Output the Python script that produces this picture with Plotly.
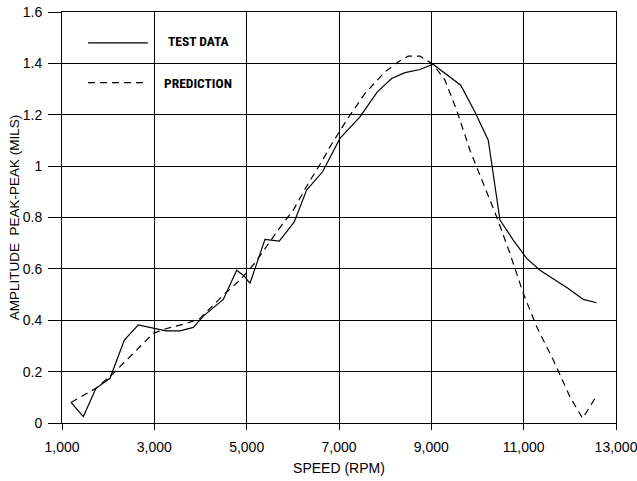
import plotly.graph_objects as go

# Test data (solid)
test_speed = [1195, 1462, 1736, 2040, 2350, 2653, 3253, 3556, 3845, 4061, 4494, 4784, 4949, 5072,
              5397, 5520, 5706, 6031, 6298, 6645, 7021, 7454, 7830, 8141, 8429, 8754, 9035,
              9636, 9945, 10233, 10487, 10775, 11065, 11353, 11642, 11966, 12291, 12580]
test_amp = [0.08, 0.025, 0.135, 0.174, 0.323, 0.382, 0.359, 0.359, 0.372, 0.416, 0.481, 0.595, 0.572, 0.544,
            0.715, 0.712, 0.708, 0.783, 0.907, 0.978, 1.108, 1.192, 1.289, 1.341, 1.364, 1.376, 1.397,
            1.315, 1.211, 1.101, 0.79, 0.712, 0.641, 0.595, 0.563, 0.524, 0.481, 0.468]

# Prediction (dashed)
pred_speed = [1195, 1736, 2111, 2977, 3267, 3700, 3989, 4494, 4855, 5202, 5650, 6010, 6335, 6624,
              6804, 7165, 7563, 7996, 8284, 8501, 8754, 9035, 9295, 9548, 9837, 10125, 10414,
              10703, 10992, 11281, 11642, 12003, 12276, 12566]
pred_amp = [0.08, 0.135, 0.193, 0.349, 0.368, 0.388, 0.407, 0.498, 0.556, 0.628, 0.744, 0.829, 0.933, 1.017,
            1.075, 1.179, 1.283, 1.367, 1.406, 1.428, 1.428, 1.397, 1.335, 1.218, 1.062, 0.933, 0.803,
            0.66, 0.505, 0.375, 0.245, 0.102, 0.018, 0.102]

x_ticks = [1000, 3000, 5000, 7000, 9000, 11000, 13000]
x_tick_labels = ["1,000", "3,000", "5,000", "7,000", "9,000", "11,000", "13,000"]
y_ticks = [0, 0.2, 0.4, 0.6, 0.8, 1, 1.2, 1.4, 1.6]
y_tick_labels = ["0", "0.2", "0.4", "0.6", "0.8", "1", "1.2", "1.4", "1.6"]
legend_labels = ["TEST DATA", "PREDICTION"]

DASH = "7px,5px"

fig = go.Figure()
fig.add_trace(go.Scatter(x=test_speed, y=test_amp, mode="lines", name=legend_labels[0],
                         line=dict(color="black", width=1.2), showlegend=False))
fig.add_trace(go.Scatter(x=pred_speed, y=pred_amp, mode="lines", name=legend_labels[1],
                         line=dict(color="black", width=1.2, dash=DASH), showlegend=False))

# Legend drawn as in the original (inside the plot area)
legend_font = dict(family="Liberation Sans Narrow, Roboto Condensed, Roboto", size=13.5,
                   color="black", weight=700)
fig.add_shape(type="line", xref="paper", yref="paper", x0=0.047, x1=0.155, y0=0.925, y1=0.925,
              line=dict(color="black", width=1.2))
fig.add_shape(type="line", xref="paper", yref="paper", x0=0.047, x1=0.155, y0=0.828, y1=0.828,
              line=dict(color="black", width=1.2, dash=DASH))
fig.add_annotation(xref="paper", yref="paper", x=0.188, y=0.93, text=legend_labels[0],
                   showarrow=False, xanchor="left", yanchor="middle", font=legend_font)
fig.add_annotation(xref="paper", yref="paper", x=0.181, y=0.828, text=legend_labels[1],
                   showarrow=False, xanchor="left", yanchor="middle", font=legend_font)

fig.update_layout(
    width=637, height=481,
    margin=dict(l=62, r=21, t=12, b=58, autoexpand=False),
    paper_bgcolor="white", plot_bgcolor="white",
    font=dict(family="Liberation Sans, Arial, sans-serif", size=14, color="black"),
    xaxis=dict(range=[1000, 13000], tickvals=x_ticks, ticktext=x_tick_labels,
               showgrid=True, gridcolor="black", gridwidth=1,
               showline=True, linecolor="black", linewidth=1, mirror=True,
               ticks="outside", ticklen=6, tickcolor="black",
               zeroline=False, automargin=False, ticklabeloverflow="allow",
               ticklabelstandoff=5,
               tickfont=dict(size=14),
               title=dict(text="SPEED (RPM)", font=dict(size=14), standoff=9)),
    yaxis=dict(range=[0, 1.6], tickvals=y_ticks, ticktext=y_tick_labels,
               showgrid=True, gridcolor="black", gridwidth=1,
               showline=True, linecolor="black", linewidth=1, mirror=True,
               ticks="outside", ticklen=13, tickcolor="black",
               zeroline=False, automargin=False, ticklabeloverflow="allow",
               ticklabelstandoff=3,
               tickfont=dict(size=14),
               title=dict(text="AMPLITUDE  PEAK-PEAK (MILS)", font=dict(size=13.5), standoff=0)),
)

# Remove the default page margin so the 637x481 figure fills the window exactly.
fig.write_html("out.html", config={"displayModeBar": False},
               post_script="document.body.style.margin='0';")
